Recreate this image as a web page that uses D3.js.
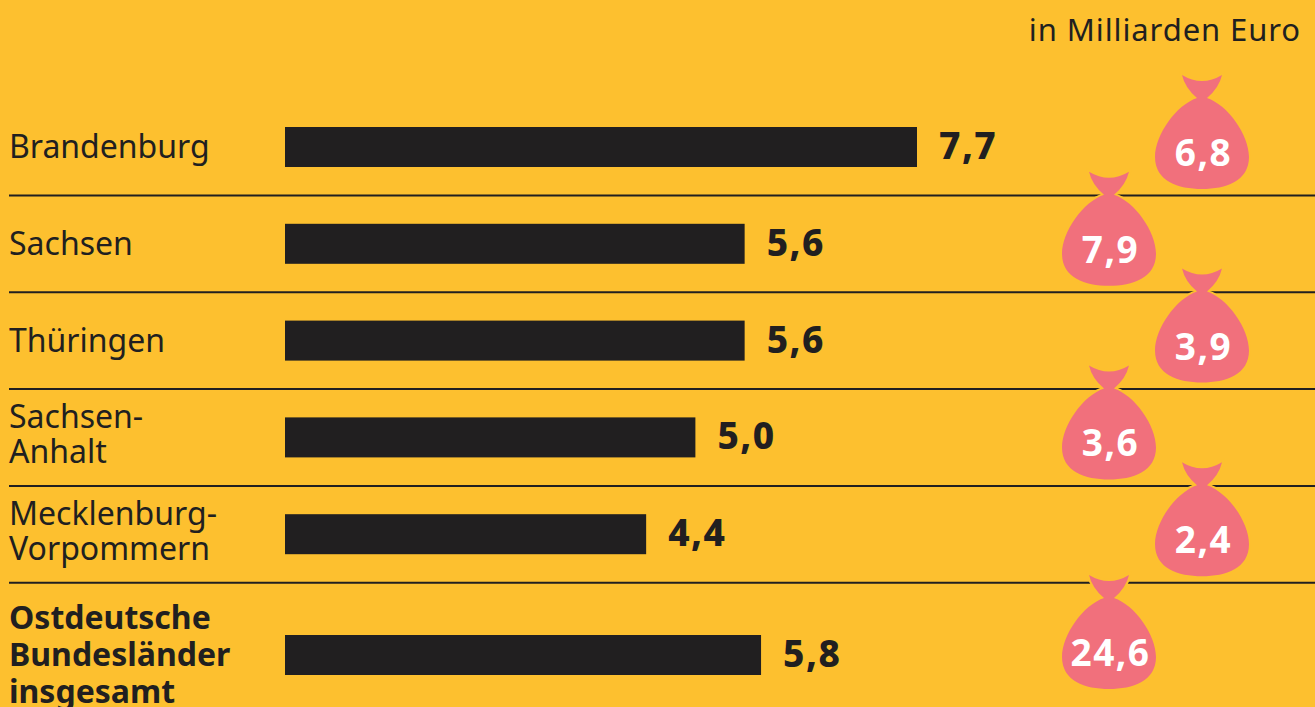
<!DOCTYPE html>
<html lang="de">
<head>
<meta charset="utf-8">
<title>Ostdeutsche Bundesländer</title>
<script src="https://cdn.jsdelivr.net/npm/d3@7"></script>
<style>
    html, body { margin: 0; padding: 0; background: #fdc02f; overflow: hidden; }
    svg { display: block; font-family: "Noto Sans", sans-serif; }
</style>
</head>
<body>
<svg id="chart"></svg>
<script>
const states = ["Brandenburg", "Sachsen", "Thüringen", "Sachsen-Anhalt", "Mecklenburg-Vorpommern", "Ostdeutsche Bundesländer insgesamt"];
const labelLines = [["Brandenburg"], ["Sachsen"], ["Thüringen"], ["Sachsen-", "Anhalt"], ["Mecklenburg-", "Vorpommern"], ["Ostdeutsche", "Bundesländer", "insgesamt"]];
const barValues = [7.7, 5.6, 5.6, 5.0, 4.4, 5.8];
const bagValues = [6.8, 7.9, 3.9, 3.6, 2.4, 24.6];

const width = 1315;
const height = 707;
const dark = "#211f20";
const yellow = "#fdc02f";
const pink = "#f1707c";

const comma = d => d.toFixed(1).replace(".", ",");

const svg = d3.select("#chart")
    .attr("width", width)
    .attr("height", height)
    .attr("viewBox", `0 0 ${width} ${height}`);

svg.append("rect").attr("width", width).attr("height", height).attr("fill", yellow);

const x = d3.scaleLinear().domain([0, 7.7]).range([285, 917]);
const yPoint = d3.scalePoint().domain(states).range([147, 631]);
// the total row sits a bit lower than the regular spacing
const y = (d, i) => yPoint(d) + (i === states.length - 1 ? 24 : 0);

svg.append("text")
    .attr("x", 1301)
    .attr("y", 41)
    .attr("text-anchor", "end")
    .attr("font-size", 31)
    .attr("letter-spacing", 0.9)
    .attr("fill", dark)
    .text("in Milliarden Euro");

// rules between the rows
svg.selectAll(".rule")
    .data(states.slice(0, -1))
    .enter()
    .append("line")
    .attr("class", "rule")
    .attr("x1", 9)
    .attr("x2", width)
    .attr("y1", d => yPoint(d) + 48.5)
    .attr("y2", d => yPoint(d) + 48.5)
    .attr("stroke", dark)
    .attr("stroke-width", 2);

// state names
svg.selectAll(".state")
    .data(labelLines)
    .enter()
    .append("text")
    .attr("class", "state")
    .attr("font-size", 32)
    .attr("font-weight", (d, i) => i === states.length - 1 ? 700 : 400)
    .attr("fill", dark)
    .each(function (lines, i) {
        const lineHeight = lines.length > 2 ? 37 : 35;
        const nudge = lines.length === 1 ? 11 : lines.length === 2 ? 8.25 : 10.5;
        const first = y(states[i], i) + nudge - (lines.length - 1) * lineHeight / 2;
        d3.select(this).selectAll("tspan")
            .data(lines)
            .enter()
            .append("tspan")
            .attr("x", 9)
            .attr("y", (d, k) => first + k * lineHeight)
            .text(d => d);
    });

svg.selectAll(".bar")
    .data(barValues)
    .enter()
    .append("rect")
    .attr("class", "bar")
    .attr("x", x(0))
    .attr("y", (d, i) => y(states[i], i) - 20)
    .attr("width", d => x(d) - x(0))
    .attr("height", 40)
    .attr("fill", dark);

svg.selectAll(".bar-label")
    .data(barValues)
    .enter()
    .append("text")
    .attr("class", "bar-label")
    .attr("x", d => x(d) + 22)
    .attr("y", (d, i) => y(states[i], i) + 12)
    .attr("font-size", 37)
    .attr("font-weight", 800)
    .attr("letter-spacing", 1.5)
    .attr("fill", dark)
    .text(comma);

// money bags, alternating between two columns
const bagPath = "M-20,0 Q0,12 20,0 Q17,13 5,23 C26,30 47,60 47,82 C47,106 24,114 0,114 C-24,114 -47,106 -47,82 C-47,60 -26,30 -5,23 Q-17,13 -20,0 Z";
const bagX = i => i % 2 === 0 ? 1202 : 1109;
const bagTop = (i) => y(states[i], i) - (i === states.length - 1 ? 80 : 72);

const bags = svg.selectAll(".bag")
    .data(bagValues)
    .enter()
    .append("g")
    .attr("class", "bag")
    .attr("transform", (d, i) => `translate(${bagX(i)},${bagTop(i)})`);

bags.append("path")
    .attr("d", bagPath)
    .attr("fill", pink)
    .attr("stroke", yellow)
    .attr("stroke-width", 4)
    .attr("paint-order", "stroke");

bags.append("text")
    .attr("x", 1.5)
    .attr("y", 91)
    .attr("text-anchor", "middle")
    .attr("font-size", 37)
    .attr("font-weight", 700)
    .attr("letter-spacing", 1.5)
    .attr("fill", "#fff")
    .text(comma);
</script>
</body>
</html>
